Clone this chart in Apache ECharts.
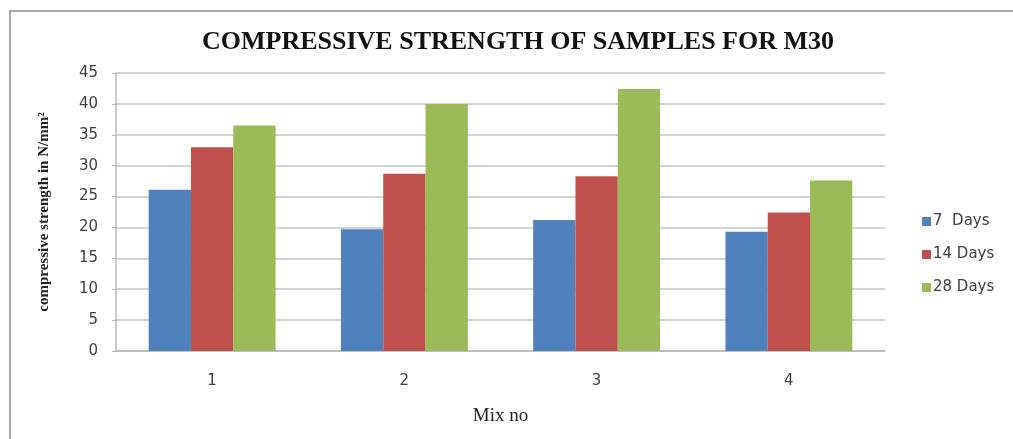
<!DOCTYPE html>
<html>
<head>
<meta charset="utf-8">
<script src="https://cdn.jsdelivr.net/npm/echarts@6/dist/echarts.min.js"></script>
<style>
html,body{margin:0;padding:0;background:#fff;}
#chart{width:1013px;height:439px;}
</style>
</head>
<body>
<div id="chart"></div>
<script>
const categories = ['1', '2', '3', '4'];
const days7 = [26.1, 19.7, 21.2, 19.3];
const days14 = [33.0, 28.7, 28.3, 22.4];
const days28 = [36.5, 40.0, 42.4, 27.6];
const seriesNames = ['7  Days', '14 Days', '28 Days'];
const yTicks = { min: 0, max: 45, interval: 5 };

const chart = echarts.init(document.getElementById('chart'));
chart.setOption({
  animation: false,
  backgroundColor: '#ffffff',
  graphic: [{
    type: 'rect',
    shape: { x: 10, y: 11, width: 1040, height: 460 },
    style: { fill: 'none', stroke: '#a8a8a8', lineWidth: 2 },
    silent: true
  }],
  title: {
    text: 'COMPRESSIVE STRENGTH OF SAMPLES FOR M30',
    left: 197,
    top: 24,
    textStyle: { fontFamily: 'Liberation Serif', fontWeight: 'bold', fontSize: 26, color: '#111' }
  },
  legend: {
    orient: 'vertical',
    left: 917,
    top: 209,
    itemWidth: 9,
    itemHeight: 9,
    itemGap: 18,
    icon: 'rect',
    textStyle: { fontFamily: 'DejaVu Sans', fontSize: 15, color: '#404040', padding: [0, 0, 0, -3] },
    data: seriesNames
  },
  grid: { left: 116, right: 128, top: 73, bottom: 88, containLabel: false },
  xAxis: {
    type: 'category',
    data: categories,
    name: 'Mix no',
    nameLocation: 'middle',
    nameGap: 56,
    nameTextStyle: { fontFamily: 'Liberation Serif', fontSize: 19, color: '#222' },
    axisLine: { show: true, lineStyle: { color: '#b8b8b8', width: 1.5 } },
    axisTick: { show: false },
    axisLabel: { fontFamily: 'DejaVu Sans', fontSize: 15, color: '#404040', margin: 23 }
  },
  yAxis: {
    type: 'value',
    min: yTicks.min,
    max: yTicks.max,
    interval: yTicks.interval,
    name: 'compressive strength in N/mm²',
    nameLocation: 'middle',
    nameGap: 64,
    nameTextStyle: { fontFamily: 'Liberation Serif', fontWeight: 'bold', fontSize: 15, color: '#222' },
    axisLine: { show: true, lineStyle: { color: '#b8b8b8', width: 1.5 } },
    axisTick: { show: true, length: 4, lineStyle: { color: '#b8b8b8' } },
    axisLabel: { fontFamily: 'DejaVu Sans', fontSize: 15, color: '#404040', margin: 18 },
    splitLine: { show: true, lineStyle: { color: '#c4c4c4', width: 1.5 } }
  },
  series: [
    { name: seriesNames[0], type: 'bar', data: days7, barGap: '0%', barCategoryGap: '34%', itemStyle: { color: '#4f81bd' } },
    { name: seriesNames[1], type: 'bar', data: days14, barGap: '0%', barCategoryGap: '34%', itemStyle: { color: '#c0504d' } },
    { name: seriesNames[2], type: 'bar', data: days28, barGap: '0%', barCategoryGap: '34%', itemStyle: { color: '#9bbb59' } }
  ]
});
</script>
</body>
</html>
